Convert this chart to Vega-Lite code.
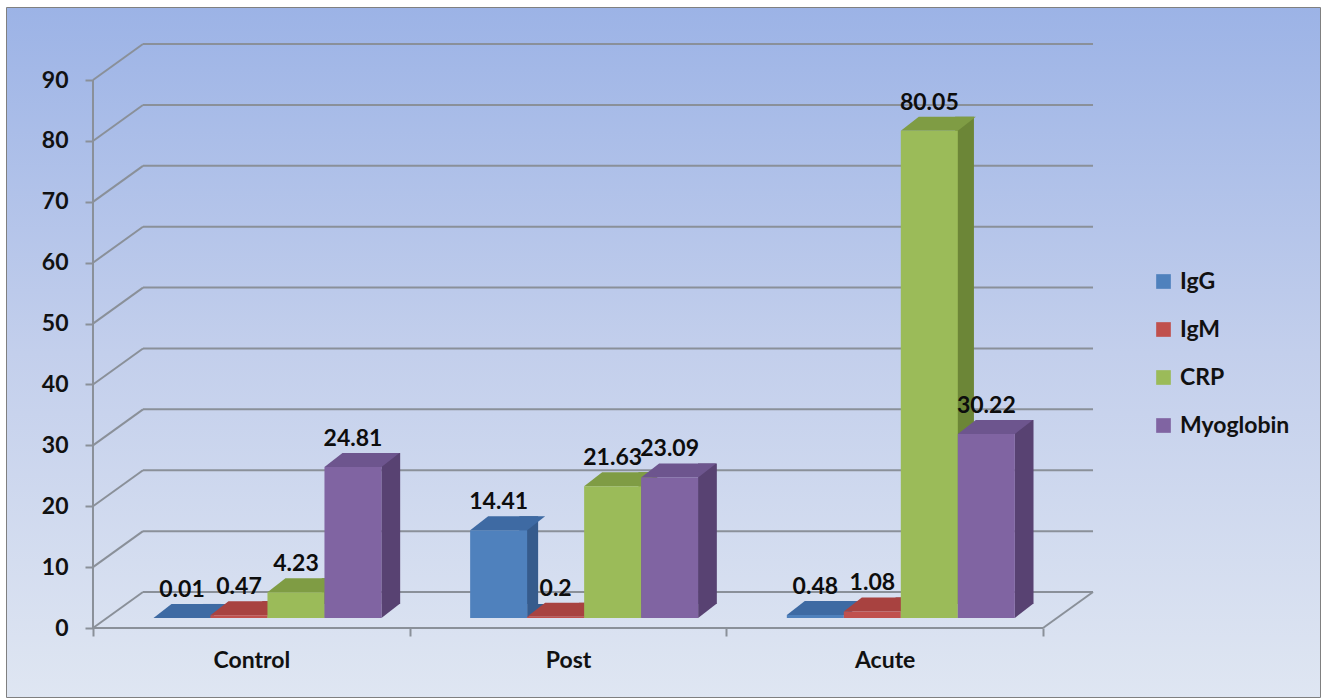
{
  "$schema": "https://vega.github.io/schema/vega-lite/v6.json",
  "width": 1314,
  "height": 690,
  "autosize": {"type": "none"},
  "padding": {"left": 6, "top": 7, "right": 2, "bottom": 2},
  "background": "#ffffff",
  "view": {
    "fill": {
      "gradient": "linear", "x1": 0, "y1": 0, "x2": 0, "y2": 1,
      "stops": [
        {"offset": 0, "color": "#9cb3e6"},
        {"offset": 0.5, "color": "#c3cfec"},
        {"offset": 1, "color": "#dfe6f2"}
      ]
    },
    "stroke": "#808080",
    "strokeWidth": 1
  },
  "config": {
    "font": "Lato",
    "axis": {
      "domain": false, "grid": false,
      "tickSize": 8, "tickWidth": 2, "tickColor": "#8a9099",
      "labelFont": "Lato", "labelFontSize": 23, "labelFontWeight": "bold", "labelColor": "#111111"
    },
    "axisX": {"offset": -69, "tickBand": "extent", "labelAngle": 0, "labelPadding": 13},
    "axisY": {"offset": -87, "labelPadding": 17},
    "legend": {
      "orient": "none", "legendX": 1146, "legendY": 263,
      "symbolType": "square", "symbolSize": 215, "symbolStrokeWidth": 0,
      "labelFont": "Lato", "labelFontSize": 23, "labelFontWeight": "bold", "labelColor": "#111111",
      "rowPadding": 24, "labelOffset": 5
    }
  },
  "datasets": {
    "levels": [
      {"group": "Control", "marker": "IgG", "value": 0.01},
      {"group": "Control", "marker": "IgM", "value": 0.47},
      {"group": "Control", "marker": "CRP", "value": 4.23},
      {"group": "Control", "marker": "Myoglobin", "value": 24.81},
      {"group": "Post", "marker": "IgG", "value": 14.41},
      {"group": "Post", "marker": "IgM", "value": 0.2},
      {"group": "Post", "marker": "CRP", "value": 21.63},
      {"group": "Post", "marker": "Myoglobin", "value": 23.09},
      {"group": "Acute", "marker": "IgG", "value": 0.48},
      {"group": "Acute", "marker": "IgM", "value": 1.08},
      {"group": "Acute", "marker": "CRP", "value": 80.05},
      {"group": "Acute", "marker": "Myoglobin", "value": 30.22}
    ],
    "grid": [
      {"v": 0}, {"v": 10}, {"v": 20}, {"v": 30}, {"v": 40},
      {"v": 50}, {"v": 60}, {"v": 70}, {"v": 80}, {"v": 90}
    ],
    "floor": [{"v": 0}]
  },
  "resolve": {"scale": {"xOffset": "independent", "fill": "independent"}},
  "layer": [
    {
      "description": "back wall grid lines",
      "data": {"name": "grid"},
      "mark": {"type": "rule", "color": "#8a9099", "strokeWidth": 2, "xOffset": 50, "x2Offset": 50, "yOffset": -36, "y2Offset": -36},
      "encoding": {
        "x": {"datum": "Control", "bandPosition": 0, "title": null, "scale": {"type": "band", "domain": ["Control", "Post", "Acute"], "paddingInner": 0, "paddingOuter": 0.5747, "align": 0.239}},
        "x2": {"datum": "Acute", "bandPosition": 1},
        "y": {"field": "v", "type": "quantitative", "title": null, "scale": {"domain": [-11.33, 102], "nice": false, "zero": false}},
        "y2": {"field": "v"}
      }
    },
    {
      "description": "side wall diagonals",
      "data": {"name": "grid"},
      "mark": {"type": "rule", "color": "#8a9099", "strokeWidth": 2, "x2Offset": 50, "y2Offset": -36},
      "encoding": {
        "x": {"datum": "Control", "bandPosition": 0, "title": null, "scale": {"type": "band", "domain": ["Control", "Post", "Acute"], "paddingInner": 0, "paddingOuter": 0.5747, "align": 0.239}},
        "x2": {"datum": "Control", "bandPosition": 0},
        "y": {"field": "v", "type": "quantitative", "title": null, "scale": {"domain": [-11.33, 102], "nice": false, "zero": false}},
        "y2": {"field": "v"}
      }
    },
    {
      "description": "floor front edge",
      "data": {"name": "floor"},
      "mark": {"type": "rule", "color": "#8a9099", "strokeWidth": 2},
      "encoding": {
        "x": {"datum": "Control", "bandPosition": 0, "title": null, "scale": {"type": "band", "domain": ["Control", "Post", "Acute"], "paddingInner": 0, "paddingOuter": 0.5747, "align": 0.239}},
        "x2": {"datum": "Acute", "bandPosition": 1},
        "y": {"field": "v", "type": "quantitative", "title": null, "scale": {"domain": [-11.33, 102], "nice": false, "zero": false}},
        "y2": {"field": "v"}
      }
    },
    {
      "description": "floor right edge",
      "data": {"name": "floor"},
      "mark": {"type": "rule", "color": "#8a9099", "strokeWidth": 2, "x2Offset": 50, "y2Offset": -36},
      "encoding": {
        "x": {"datum": "Acute", "bandPosition": 1, "title": null, "scale": {"type": "band", "domain": ["Control", "Post", "Acute"], "paddingInner": 0, "paddingOuter": 0.5747, "align": 0.239}},
        "x2": {"datum": "Acute", "bandPosition": 1},
        "y": {"field": "v", "type": "quantitative", "title": null, "scale": {"domain": [-11.33, 102], "nice": false, "zero": false}},
        "y2": {"field": "v"}
      }
    },
    {
      "description": "value axis line",
      "data": {"name": "floor"},
      "mark": {"type": "rule", "color": "#8a9099", "strokeWidth": 2},
      "encoding": {
        "x": {"datum": "Control", "bandPosition": 0, "title": null, "scale": {"type": "band", "domain": ["Control", "Post", "Acute"], "paddingInner": 0, "paddingOuter": 0.5747, "align": 0.239}},
        "y": {"field": "v", "type": "quantitative", "title": null, "scale": {"domain": [-11.33, 102], "nice": false, "zero": false}},
        "y2": {"datum": 90}
      }
    },
    {
      "description": "bar side faces",
      "data": {"name": "levels"},
      "mark": {"type": "bar", "yOffset": -24, "y2Offset": -24},
      "encoding": {
        "x": {"field": "group", "type": "nominal", "title": null, "scale": {"type": "band", "domain": ["Control", "Post", "Acute"], "paddingInner": 0, "paddingOuter": 0.5747, "align": 0.239}},
        "xOffset": {"field": "marker", "type": "nominal", "scale": {"type": "band", "domain": ["IgG", "IgM", "CRP", "Myoglobin"], "paddingInner": 0.6842, "paddingOuter": 1.1199, "align": 0.9203}},
        "y": {"field": "value", "type": "quantitative", "title": null, "scale": {"domain": [-11.33, 102], "nice": false, "zero": false}},
        "y2": {"datum": 0},
        "fill": {"field": "marker", "type": "nominal", "scale": {"domain": ["IgG", "IgM", "CRP", "Myoglobin"], "range": ["#365b8c", "#8c3634", "#6c8637", "#584272"]}, "legend": null}
      }
    },
    {
      "description": "bottom corner of each side face",
      "data": {"name": "levels"},
      "mark": {"type": "point", "shape": "M28.5,-24L28.5,-10L46.5,-24Z", "size": 4, "filled": true, "opacity": 1, "strokeWidth": 0},
      "encoding": {
        "x": {"field": "group", "type": "nominal", "title": null, "scale": {"type": "band", "domain": ["Control", "Post", "Acute"], "paddingInner": 0, "paddingOuter": 0.5747, "align": 0.239}},
        "xOffset": {"field": "marker", "type": "nominal", "scale": {"type": "band", "domain": ["IgG", "IgM", "CRP", "Myoglobin"], "paddingInner": 0, "paddingOuter": 0.778, "align": 0.682}},
        "y": {"datum": 0, "title": null, "scale": {"domain": [-11.33, 102], "nice": false, "zero": false}},
        "fill": {"field": "marker", "type": "nominal", "scale": {"domain": ["IgG", "IgM", "CRP", "Myoglobin"], "range": ["#365b8c", "#8c3634", "#6c8637", "#584272"]}, "legend": null}
      }
    },
    {
      "description": "bar top faces",
      "data": {"name": "levels"},
      "mark": {"type": "point", "shape": "M-28.5,-10L28.5,-10L46.5,-24L-10.5,-24Z", "size": 4, "filled": true, "opacity": 1, "strokeWidth": 0},
      "encoding": {
        "x": {"field": "group", "type": "nominal", "title": null, "scale": {"type": "band", "domain": ["Control", "Post", "Acute"], "paddingInner": 0, "paddingOuter": 0.5747, "align": 0.239}},
        "xOffset": {"field": "marker", "type": "nominal", "scale": {"type": "band", "domain": ["IgG", "IgM", "CRP", "Myoglobin"], "paddingInner": 0, "paddingOuter": 0.778, "align": 0.682}},
        "y": {"field": "value", "type": "quantitative", "title": null, "scale": {"domain": [-11.33, 102], "nice": false, "zero": false}},
        "fill": {"field": "marker", "type": "nominal", "scale": {"domain": ["IgG", "IgM", "CRP", "Myoglobin"], "range": ["#3e6aa3", "#a84240", "#7f9c44", "#6d558e"]}, "legend": null}
      }
    },
    {
      "description": "bar front faces",
      "data": {"name": "levels"},
      "mark": {"type": "bar", "yOffset": -10, "y2Offset": -10},
      "encoding": {
        "x": {"field": "group", "type": "nominal", "title": null, "scale": {"type": "band", "domain": ["Control", "Post", "Acute"], "paddingInner": 0, "paddingOuter": 0.5747, "align": 0.239}},
        "xOffset": {"field": "marker", "type": "nominal", "scale": {"type": "band", "domain": ["IgG", "IgM", "CRP", "Myoglobin"], "paddingInner": 0, "paddingOuter": 0.778, "align": 0.682}},
        "y": {
          "field": "value", "type": "quantitative", "title": null,
          "scale": {"domain": [-11.33, 102], "nice": false, "zero": false},
          "axis": {"values": [0, 10, 20, 30, 40, 50, 60, 70, 80, 90]}
        },
        "y2": {"datum": 0},
        "color": {
          "field": "marker", "type": "nominal",
          "scale": {"domain": ["IgG", "IgM", "CRP", "Myoglobin"], "range": ["#4f81bd", "#c0504d", "#9bbb59", "#8064a2"]},
          "legend": {"title": null}
        }
      }
    },
    {
      "description": "value labels",
      "data": {"name": "levels"},
      "mark": {"type": "text", "dy": -31, "baseline": "alphabetic", "align": "center", "font": "Lato", "fontSize": 23, "fontWeight": "bold", "color": "#0d0d0d"},
      "encoding": {
        "x": {"field": "group", "type": "nominal", "title": null, "scale": {"type": "band", "domain": ["Control", "Post", "Acute"], "paddingInner": 0, "paddingOuter": 0.5747, "align": 0.239}},
        "xOffset": {"field": "marker", "type": "nominal", "scale": {"type": "band", "domain": ["IgG", "IgM", "CRP", "Myoglobin"], "paddingInner": 0, "paddingOuter": 0.778, "align": 0.682}},
        "y": {"field": "value", "type": "quantitative", "title": null, "scale": {"domain": [-11.33, 102], "nice": false, "zero": false}},
        "text": {"field": "value", "type": "quantitative"}
      }
    }
  ]
}
